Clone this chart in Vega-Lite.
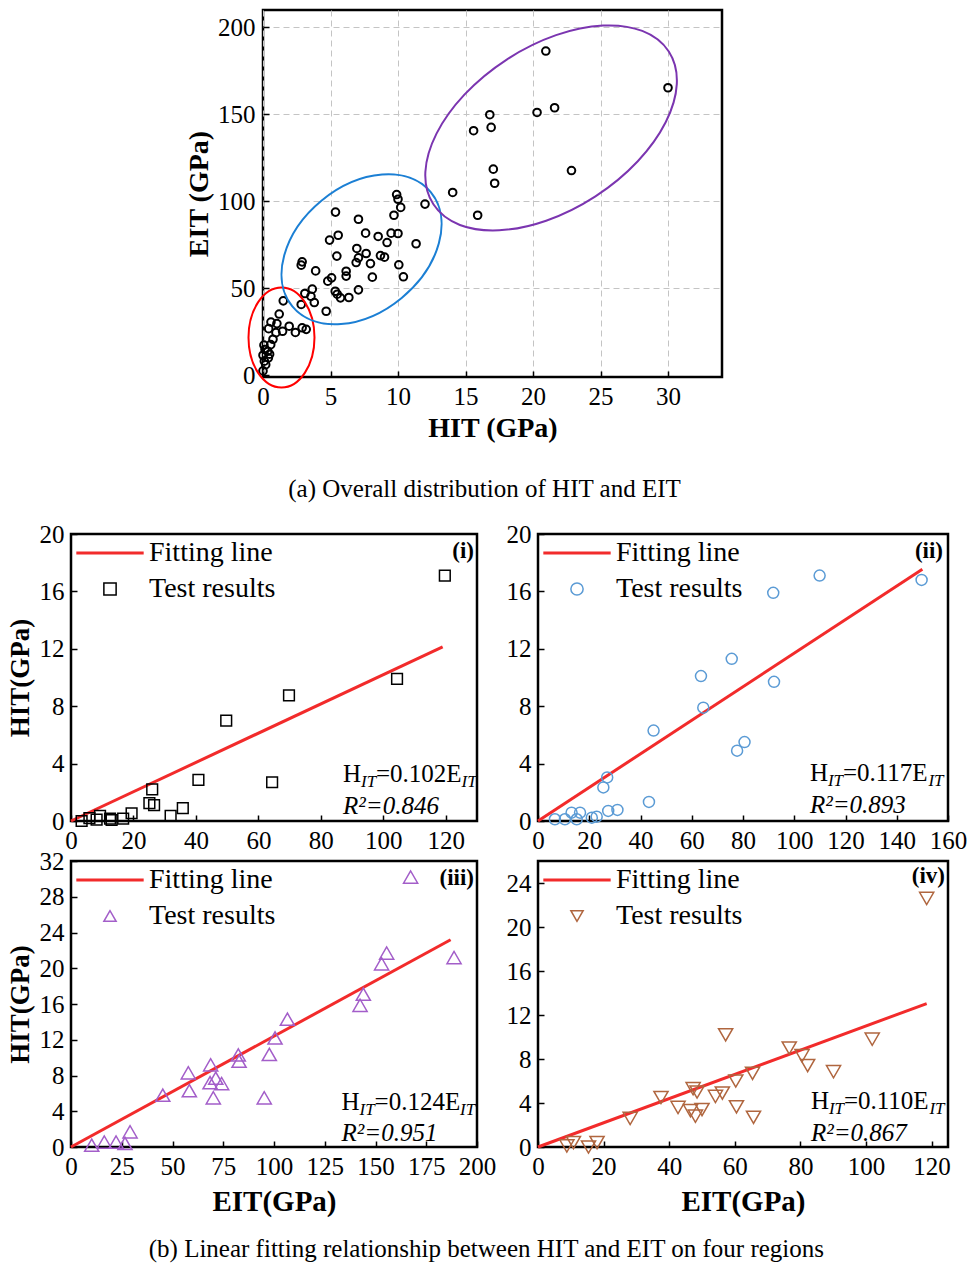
{
  "$schema": "https://vega.github.io/schema/vega-lite/v6.json",
  "padding": {"left": 4, "top": 8, "right": 0, "bottom": 0},
  "background": "white",
  "spacing": 16,
  "resolve": {"scale": {"color": "independent", "shape": "independent", "strokeWidth": "independent"}},
  "vconcat": [
    {
      "hconcat": [
        {"width": 113, "height": 1, "data": {"values": []}, "mark": "point", "view": {"stroke": null}},
        {
          "width": 459, "height": 367,
          "title": {"text": "(a) Overall distribution of HIT and EIT", "orient": "bottom", "offset": 35, "fontSize": 25, "fontWeight": "normal", "font": "Liberation Serif", "dx": -8, "anchor": "middle"},
          "layer": [
            {
              "data": {"values": [
                {"H": 20.95, "E": 186.4}, {"H": 30.0, "E": 165.3}, {"H": 21.6, "E": 153.8}, {"H": 20.3, "E": 151.1}, {"H": 16.8, "E": 149.8}, {"H": 16.9, "E": 142.5}, {"H": 15.6, "E": 140.6}, {"H": 17.06, "E": 118.5}, {"H": 22.85, "E": 117.7}, {"H": 17.16, "E": 110.4}, {"H": 14.05, "E": 105.1}, {"H": 15.9, "E": 92.0},
                {"H": 12.0, "E": 98.4}, {"H": 9.9, "E": 103.9}, {"H": 10.0, "E": 101.2}, {"H": 10.2, "E": 96.5}, {"H": 9.7, "E": 92.0}, {"H": 5.37, "E": 93.8}, {"H": 7.07, "E": 89.7}, {"H": 4.93, "E": 77.7}, {"H": 5.57, "E": 80.5}, {"H": 7.6, "E": 81.7}, {"H": 8.53, "E": 79.8}, {"H": 9.49, "E": 81.7}, {"H": 10.0, "E": 81.5}, {"H": 9.19, "E": 76.3}, {"H": 11.34, "E": 75.6}, {"H": 6.95, "E": 72.9}, {"H": 7.64, "E": 70.0}, {"H": 7.07, "E": 67.5}, {"H": 6.9, "E": 64.8}, {"H": 5.47, "E": 68.5}, {"H": 8.7, "E": 68.8}, {"H": 9.0, "E": 67.9}, {"H": 7.96, "E": 64.2}, {"H": 10.06, "E": 63.5}, {"H": 2.83, "E": 63.3}, {"H": 2.9, "E": 65.2}, {"H": 3.9, "E": 60.0}, {"H": 6.16, "E": 59.8}, {"H": 6.16, "E": 57.0}, {"H": 8.1, "E": 56.4}, {"H": 10.4, "E": 56.6}, {"H": 5.08, "E": 56.0}, {"H": 4.8, "E": 54.1}, {"H": 3.65, "E": 49.5}, {"H": 3.1, "E": 47.0}, {"H": 3.55, "E": 45.4}, {"H": 5.35, "E": 48.3}, {"H": 5.5, "E": 46.6}, {"H": 5.74, "E": 44.5}, {"H": 6.36, "E": 44.7}, {"H": 7.07, "E": 49.1}, {"H": 3.8, "E": 41.8}, {"H": 2.83, "E": 40.7}, {"H": 4.68, "E": 36.8},
                {"H": 1.5, "E": 42.8}, {"H": 1.2, "E": 35.2}, {"H": 0.59, "E": 30.6}, {"H": 1.03, "E": 29.7}, {"H": 1.94, "E": 28.2}, {"H": 0.42, "E": 26.8}, {"H": 1.45, "E": 25.3}, {"H": 0.96, "E": 24.5}, {"H": 2.4, "E": 24.6}, {"H": 2.9, "E": 27.3}, {"H": 3.2, "E": 26.4}, {"H": 0.74, "E": 20.7}, {"H": 0.57, "E": 17.6}, {"H": 0.07, "E": 17.3}, {"H": 0.15, "E": 14.8}, {"H": 0.35, "E": 13.8}, {"H": 0.0, "E": 11.5}, {"H": 0.49, "E": 12.1}, {"H": 0.4, "E": 10.0}, {"H": 0.1, "E": 8.1}, {"H": 0.2, "E": 6.1}, {"H": 0.0, "E": 2.5}
              ]},
              "mark": {"type": "point", "shape": "circle", "filled": false, "size": 58, "strokeWidth": 2, "color": "black", "opacity": 1},
              "encoding": {
                "x": {"field": "H", "type": "quantitative", "scale": {"domain": [0, 34], "nice": false, "zero": false},
                      "axis": {"values": [0, 5, 10, 15, 20, 25, 30], "title": "HIT (GPa)", "labelFontSize": 25, "titleFontSize": 28, "grid": true, "gridDash": [6, 4], "gridColor": "#c4c4c4", "gridWidth": 1, "labelPadding": 13, "titlePadding": 5, "labelOverlap": false}},
                "y": {"field": "E", "type": "quantitative", "scale": {"domain": [-1, 210], "nice": false, "zero": false},
                      "axis": {"values": [0, 50, 100, 150, 200], "title": "EIT (GPa)", "labelFontSize": 25, "titleFontSize": 28, "grid": true, "gridDash": [6, 4], "gridColor": "#c4c4c4", "gridWidth": 1, "labelPadding": 14, "titlePadding": 4, "labelOverlap": false}}
              }
            },
            {
              "data": {"values": [{"region": "I", "H": 1.37, "E": 21.7}, {"region": "II", "H": 7.3, "E": 72.4}, {"region": "III", "H": 21.34, "E": 142.2}]},
              "mark": {"type": "point", "filled": false, "size": 4, "strokeWidth": 2, "opacity": 1},
              "encoding": {
                "x": {"field": "H", "type": "quantitative"},
                "y": {"field": "E", "type": "quantitative"},
                "shape": {"field": "region", "type": "nominal", "legend": null, "scale": {"domain": ["I", "II", "III"], "range": [
                  "M -33 0 A 33 50 0 0 1 33 0 A 33 50 0 0 1 -33 0 Z",
                  "M 69.2 -57.1 A 89.7 63 -39.5 0 1 -69.2 57.1 A 89.7 63 -39.5 0 1 69.2 -57.1 Z",
                  "M 117.7 -76.4 A 140.3 81.5 -33 0 1 -117.7 76.4 A 140.3 81.5 -33 0 1 117.7 -76.4 Z"]}},
                "color": {"field": "region", "type": "nominal", "legend": null, "scale": {"domain": ["I", "II", "III"], "range": ["#ff0000", "#1b7fd4", "#7b35b0"]}}
              }
            }
          ]
        }
      ],
      "spacing": 0,
      "resolve": {"scale": {"color": "independent", "shape": "independent", "strokeWidth": "independent"}}
    },
    {
      "columns": 2,
      "bounds": "flush",
      "spacing": {"row": 40, "column": 61},
      "resolve": {"scale": {"color": "independent", "shape": "independent", "strokeWidth": "independent"}},
      "title": {"text": "(b) Linear fitting relationship between HIT and EIT on four regions", "orient": "bottom", "offset": 20, "fontSize": 25, "fontWeight": "normal", "font": "Liberation Serif", "anchor": "middle"},
      "concat": [
        {
          "width": 406, "height": 287,
          "layer": [
            {
              "data": {"values": [{"E": 0, "H": 0, "series": "Fitting line"}, {"E": 119, "H": 12.14, "series": "Fitting line"}]},
              "mark": {"type": "line"},
              "encoding": {
                "x": {"field": "E", "type": "quantitative", "scale": {"domain": [0, 130], "nice": false, "zero": false}, "axis": {"values": [0, 20, 40, 60, 80, 100, 120], "title": null, "labelOverlap": false, "labelSeparation": 0}},
                "y": {"field": "H", "type": "quantitative", "scale": {"domain": [0, 20], "nice": false}, "axis": {"values": [0, 4, 8, 12, 16, 20], "title": "HIT(GPa)", "labelOverlap": false, "labelSeparation": 0}},
                "color": {"field": "series", "type": "nominal", "scale": {"domain": ["Fitting line", "Test results"], "range": ["#f22b2b", "#000000"]}, "legend": {"title": null}},
                "strokeWidth": {"field": "series", "type": "nominal", "scale": {"domain": ["Fitting line", "Test results"], "range": [3, 1.5]}, "legend": {"title": null}}
              }
            },
            {
              "data": {"values": [
                {"E": 3.4, "H": 0.0, "series": "Test results"}, {"E": 5.9, "H": 0.2, "series": "Test results"}, {"E": 8.2, "H": 0.1, "series": "Test results"}, {"E": 9.3, "H": 0.35, "series": "Test results"}, {"E": 12.5, "H": 0.17, "series": "Test results"}, {"E": 13.0, "H": 0.07, "series": "Test results"}, {"E": 16.7, "H": 0.17, "series": "Test results"}, {"E": 19.4, "H": 0.54, "series": "Test results"}, {"E": 25.1, "H": 1.24, "series": "Test results"}, {"E": 26.0, "H": 2.2, "series": "Test results"}, {"E": 26.6, "H": 1.1, "series": "Test results"}, {"E": 31.9, "H": 0.35, "series": "Test results"}, {"E": 35.8, "H": 0.89, "series": "Test results"}, {"E": 40.8, "H": 2.87, "series": "Test results"}, {"E": 49.7, "H": 7.0, "series": "Test results"}, {"E": 64.4, "H": 2.7, "series": "Test results"}, {"E": 69.8, "H": 8.75, "series": "Test results"}, {"E": 104.4, "H": 9.9, "series": "Test results"}, {"E": 119.7, "H": 17.1, "series": "Test results"}
              ]},
              "mark": {"type": "point", "filled": false, "size": 115, "opacity": 1},
              "encoding": {
                "x": {"field": "E", "type": "quantitative", "scale": {"domain": [0, 130], "nice": false, "zero": false}, "axis": {"values": [0, 20, 40, 60, 80, 100, 120], "title": null, "labelOverlap": false, "labelSeparation": 0}},
                "y": {"field": "H", "type": "quantitative", "scale": {"domain": [0, 20], "nice": false}, "axis": {"values": [0, 4, 8, 12, 16, 20], "title": "HIT(GPa)", "labelOverlap": false, "labelSeparation": 0}},
                "color": {"field": "series", "type": "nominal", "scale": {"domain": ["Fitting line", "Test results"], "range": ["#f22b2b", "#000000"]}, "legend": {"title": null}},
                "shape": {"field": "series", "type": "nominal", "scale": {"domain": ["Fitting line", "Test results"], "range": ["M-5.5,0H5.5", "square"]}, "legend": {"title": null}},
                "strokeWidth": {"field": "series", "type": "nominal", "scale": {"domain": ["Fitting line", "Test results"], "range": [3, 1.5]}, "legend": {"title": null}}
              }
            },
            {"data": {"values": [{}]}, "mark": {"type": "text", "text": "H", "fontSize": 25, "align": "left", "baseline": "alphabetic"}, "encoding": {"x": {"datum": 87.1}, "y": {"datum": 2.69}}},
            {"data": {"values": [{}]}, "mark": {"type": "text", "text": "IT", "fontSize": 17, "fontStyle": "italic", "align": "left", "baseline": "alphabetic", "dx": 18, "dy": 5}, "encoding": {"x": {"datum": 87.1}, "y": {"datum": 2.69}}},
            {"data": {"values": [{}]}, "mark": {"type": "text", "text": "=0.102E", "fontSize": 25, "align": "left", "baseline": "alphabetic", "dx": 33}, "encoding": {"x": {"datum": 87.1}, "y": {"datum": 2.69}}},
            {"data": {"values": [{}]}, "mark": {"type": "text", "text": "IT", "fontSize": 17, "fontStyle": "italic", "align": "left", "baseline": "alphabetic", "dx": 118.5, "dy": 5}, "encoding": {"x": {"datum": 87.1}, "y": {"datum": 2.69}}},
            {"data": {"values": [{}]}, "mark": {"type": "text", "text": "R²=0.846", "fontSize": 25, "fontStyle": "italic", "align": "left", "baseline": "alphabetic"}, "encoding": {"x": {"datum": 87.1}, "y": {"datum": 0.47}}},
            {"data": {"values": [{}]}, "mark": {"type": "text", "text": "(i)", "fontSize": 23, "fontWeight": "bold", "align": "right", "baseline": "middle", "dx": -3}, "encoding": {"x": {"datum": 130}, "y": {"datum": 18.8}}}
          ]
        },
        {
          "width": 410, "height": 287,
          "layer": [
            {
              "data": {"values": [{"E": 0, "H": 0, "series": "Fitting line"}, {"E": 150, "H": 17.55, "series": "Fitting line"}]},
              "mark": {"type": "line"},
              "encoding": {
                "x": {"field": "E", "type": "quantitative", "scale": {"domain": [0, 160], "nice": false, "zero": false}, "axis": {"values": [0, 20, 40, 60, 80, 100, 120, 140, 160], "title": null, "labelOverlap": false, "labelSeparation": 0}},
                "y": {"field": "H", "type": "quantitative", "scale": {"domain": [0, 20], "nice": false}, "axis": {"values": [0, 4, 8, 12, 16, 20], "title": null, "labelOverlap": false, "labelSeparation": 0}},
                "color": {"field": "series", "type": "nominal", "scale": {"domain": ["Fitting line", "Test results"], "range": ["#f22b2b", "#5b9bd5"]}, "legend": {"title": null}},
                "strokeWidth": {"field": "series", "type": "nominal", "scale": {"domain": ["Fitting line", "Test results"], "range": [3, 1.5]}, "legend": {"title": null}}
              }
            },
            {
              "data": {"values": [
                {"E": 6.6, "H": 0.12, "series": "Test results"}, {"E": 10.5, "H": 0.12, "series": "Test results"}, {"E": 13.1, "H": 0.58, "series": "Test results"}, {"E": 15.1, "H": 0.12, "series": "Test results"}, {"E": 16.4, "H": 0.58, "series": "Test results"}, {"E": 21.0, "H": 0.23, "series": "Test results"}, {"E": 22.9, "H": 0.3, "series": "Test results"}, {"E": 25.5, "H": 2.34, "series": "Test results"}, {"E": 27.0, "H": 3.04, "series": "Test results"}, {"E": 27.4, "H": 0.7, "series": "Test results"}, {"E": 31.0, "H": 0.77, "series": "Test results"}, {"E": 43.3, "H": 1.33, "series": "Test results"}, {"E": 45.1, "H": 6.3, "series": "Test results"}, {"E": 63.6, "H": 10.1, "series": "Test results"}, {"E": 64.5, "H": 7.9, "series": "Test results"}, {"E": 75.6, "H": 11.3, "series": "Test results"}, {"E": 77.7, "H": 4.9, "series": "Test results"}, {"E": 80.6, "H": 5.5, "series": "Test results"}, {"E": 91.8, "H": 15.9, "series": "Test results"}, {"E": 92.1, "H": 9.7, "series": "Test results"}, {"E": 109.9, "H": 17.1, "series": "Test results"}, {"E": 149.7, "H": 16.8, "series": "Test results"}
              ]},
              "mark": {"type": "point", "filled": false, "size": 121, "opacity": 1},
              "encoding": {
                "x": {"field": "E", "type": "quantitative", "scale": {"domain": [0, 160], "nice": false, "zero": false}, "axis": {"values": [0, 20, 40, 60, 80, 100, 120, 140, 160], "title": null, "labelOverlap": false, "labelSeparation": 0}},
                "y": {"field": "H", "type": "quantitative", "scale": {"domain": [0, 20], "nice": false}, "axis": {"values": [0, 4, 8, 12, 16, 20], "title": null, "labelOverlap": false, "labelSeparation": 0}},
                "color": {"field": "series", "type": "nominal", "scale": {"domain": ["Fitting line", "Test results"], "range": ["#f22b2b", "#5b9bd5"]}, "legend": {"title": null}},
                "shape": {"field": "series", "type": "nominal", "scale": {"domain": ["Fitting line", "Test results"], "range": ["M-5.5,0H5.5", "circle"]}, "legend": {"title": null}},
                "strokeWidth": {"field": "series", "type": "nominal", "scale": {"domain": ["Fitting line", "Test results"], "range": [3, 1.5]}, "legend": {"title": null}}
              }
            },
            {"data": {"values": [{}]}, "mark": {"type": "text", "text": "H", "fontSize": 25, "align": "left", "baseline": "alphabetic"}, "encoding": {"x": {"datum": 106.1}, "y": {"datum": 2.8}}},
            {"data": {"values": [{}]}, "mark": {"type": "text", "text": "IT", "fontSize": 17, "fontStyle": "italic", "align": "left", "baseline": "alphabetic", "dx": 18, "dy": 5}, "encoding": {"x": {"datum": 106.1}, "y": {"datum": 2.8}}},
            {"data": {"values": [{}]}, "mark": {"type": "text", "text": "=0.117E", "fontSize": 25, "align": "left", "baseline": "alphabetic", "dx": 33}, "encoding": {"x": {"datum": 106.1}, "y": {"datum": 2.8}}},
            {"data": {"values": [{}]}, "mark": {"type": "text", "text": "IT", "fontSize": 17, "fontStyle": "italic", "align": "left", "baseline": "alphabetic", "dx": 118.5, "dy": 5}, "encoding": {"x": {"datum": 106.1}, "y": {"datum": 2.8}}},
            {"data": {"values": [{}]}, "mark": {"type": "text", "text": "R²=0.893", "fontSize": 25, "fontStyle": "italic", "align": "left", "baseline": "alphabetic"}, "encoding": {"x": {"datum": 106.1}, "y": {"datum": 0.59}}},
            {"data": {"values": [{}]}, "mark": {"type": "text", "text": "(ii)", "fontSize": 23, "fontWeight": "bold", "align": "right", "baseline": "middle", "dx": -5}, "encoding": {"x": {"datum": 160}, "y": {"datum": 18.8}}}
          ]
        },
        {
          "width": 406, "height": 286,
          "layer": [
            {
              "data": {"values": [{"E": 0, "H": 0, "series": "Fitting line"}, {"E": 187, "H": 23.19, "series": "Fitting line"}]},
              "mark": {"type": "line"},
              "encoding": {
                "x": {"field": "E", "type": "quantitative", "scale": {"domain": [0, 200], "nice": false, "zero": false}, "axis": {"values": [0, 25, 50, 75, 100, 125, 150, 175, 200], "title": "EIT(GPa)", "titleFontSize": 29, "titlePadding": 8, "labelOverlap": false, "labelSeparation": 0}},
                "y": {"field": "H", "type": "quantitative", "scale": {"domain": [0, 32], "nice": false}, "axis": {"values": [0, 4, 8, 12, 16, 20, 24, 28, 32], "title": "HIT(GPa)", "labelOverlap": false, "labelSeparation": 0}},
                "color": {"field": "series", "type": "nominal", "scale": {"domain": ["Fitting line", "Test results"], "range": ["#f22b2b", "#a35ec9"]}, "legend": {"title": null}},
                "strokeWidth": {"field": "series", "type": "nominal", "scale": {"domain": ["Fitting line", "Test results"], "range": [3, 1.5]}, "legend": {"title": null}}
              }
            },
            {
              "data": {"values": [
                {"E": 10.2, "H": 0.2, "series": "Test results"}, {"E": 16.4, "H": 0.55, "series": "Test results"}, {"E": 22.2, "H": 0.55, "series": "Test results"}, {"E": 26.6, "H": 0.4, "series": "Test results"}, {"E": 29.1, "H": 1.7, "series": "Test results"}, {"E": 45.2, "H": 5.8, "series": "Test results"}, {"E": 57.8, "H": 8.3, "series": "Test results"}, {"E": 58.3, "H": 6.3, "series": "Test results"}, {"E": 68.5, "H": 7.2, "series": "Test results"}, {"E": 68.8, "H": 9.2, "series": "Test results"}, {"E": 70.1, "H": 5.5, "series": "Test results"}, {"E": 71.3, "H": 7.7, "series": "Test results"}, {"E": 74.2, "H": 7.1, "series": "Test results"}, {"E": 82.4, "H": 10.3, "series": "Test results"}, {"E": 82.8, "H": 9.6, "series": "Test results"}, {"E": 95.2, "H": 5.5, "series": "Test results"}, {"E": 97.7, "H": 10.35, "series": "Test results"}, {"E": 100.5, "H": 12.2, "series": "Test results"}, {"E": 106.6, "H": 14.3, "series": "Test results"}, {"E": 142.4, "H": 15.85, "series": "Test results"}, {"E": 144.0, "H": 17.1, "series": "Test results"}, {"E": 153.0, "H": 20.5, "series": "Test results"}, {"E": 155.5, "H": 21.7, "series": "Test results"}, {"E": 167.3, "H": 30.2, "series": "Test results"}, {"E": 188.7, "H": 21.2, "series": "Test results"}
              ]},
              "mark": {"type": "point", "filled": false, "size": 200, "opacity": 1},
              "encoding": {
                "x": {"field": "E", "type": "quantitative", "scale": {"domain": [0, 200], "nice": false, "zero": false}, "axis": {"values": [0, 25, 50, 75, 100, 125, 150, 175, 200], "title": "EIT(GPa)", "titleFontSize": 29, "titlePadding": 8, "labelOverlap": false, "labelSeparation": 0}},
                "y": {"field": "H", "type": "quantitative", "scale": {"domain": [0, 32], "nice": false}, "axis": {"values": [0, 4, 8, 12, 16, 20, 24, 28, 32], "title": "HIT(GPa)", "labelOverlap": false, "labelSeparation": 0}},
                "color": {"field": "series", "type": "nominal", "scale": {"domain": ["Fitting line", "Test results"], "range": ["#f22b2b", "#a35ec9"]}, "legend": {"title": null}},
                "shape": {"field": "series", "type": "nominal", "scale": {"domain": ["Fitting line", "Test results"], "range": ["M-5.5,0H5.5", "triangle-up"]}, "legend": {"title": null}},
                "strokeWidth": {"field": "series", "type": "nominal", "scale": {"domain": ["Fitting line", "Test results"], "range": [3, 1.5]}, "legend": {"title": null}}
              }
            },
            {"data": {"values": [{}]}, "mark": {"type": "text", "text": "H", "fontSize": 25, "align": "left", "baseline": "alphabetic"}, "encoding": {"x": {"datum": 133.3}, "y": {"datum": 4.14, "axis": {"values": [0, 4, 8, 12, 16, 20, 24, 28, 32], "title": "HIT(GPa)", "labelOverlap": false, "labelSeparation": 0}}}},
            {"data": {"values": [{}]}, "mark": {"type": "text", "text": "IT", "fontSize": 17, "fontStyle": "italic", "align": "left", "baseline": "alphabetic", "dx": 18, "dy": 5}, "encoding": {"x": {"datum": 133.3}, "y": {"datum": 4.14, "axis": {"values": [0, 4, 8, 12, 16, 20, 24, 28, 32], "title": "HIT(GPa)", "labelOverlap": false, "labelSeparation": 0}}}},
            {"data": {"values": [{}]}, "mark": {"type": "text", "text": "=0.124E", "fontSize": 25, "align": "left", "baseline": "alphabetic", "dx": 33}, "encoding": {"x": {"datum": 133.3}, "y": {"datum": 4.14, "axis": {"values": [0, 4, 8, 12, 16, 20, 24, 28, 32], "title": "HIT(GPa)", "labelOverlap": false, "labelSeparation": 0}}}},
            {"data": {"values": [{}]}, "mark": {"type": "text", "text": "IT", "fontSize": 17, "fontStyle": "italic", "align": "left", "baseline": "alphabetic", "dx": 118.5, "dy": 5}, "encoding": {"x": {"datum": 133.3}, "y": {"datum": 4.14, "axis": {"values": [0, 4, 8, 12, 16, 20, 24, 28, 32], "title": "HIT(GPa)", "labelOverlap": false, "labelSeparation": 0}}}},
            {"data": {"values": [{}]}, "mark": {"type": "text", "text": "R²=0.951", "fontSize": 25, "fontStyle": "italic", "align": "left", "baseline": "alphabetic"}, "encoding": {"x": {"datum": 133.3}, "y": {"datum": 0.68, "axis": {"values": [0, 4, 8, 12, 16, 20, 24, 28, 32], "title": "HIT(GPa)", "labelOverlap": false, "labelSeparation": 0}}}},
            {"data": {"values": [{}]}, "mark": {"type": "text", "text": "(iii)", "fontSize": 23, "fontWeight": "bold", "align": "right", "baseline": "middle", "dx": -3}, "encoding": {"x": {"datum": 200}, "y": {"datum": 30.1, "axis": {"values": [0, 4, 8, 12, 16, 20, 24, 28, 32], "title": "HIT(GPa)", "labelOverlap": false, "labelSeparation": 0}}}}
          ]
        },
        {
          "width": 410, "height": 286,
          "layer": [
            {
              "data": {"values": [{"E": 0, "H": 0, "series": "Fitting line"}, {"E": 118.5, "H": 13.04, "series": "Fitting line"}]},
              "mark": {"type": "line"},
              "encoding": {
                "x": {"field": "E", "type": "quantitative", "scale": {"domain": [0, 125], "nice": false, "zero": false}, "axis": {"values": [0, 20, 40, 60, 80, 100, 120], "title": "EIT(GPa)", "titleFontSize": 29, "titlePadding": 8, "labelOverlap": false, "labelSeparation": 0}},
                "y": {"field": "H", "type": "quantitative", "scale": {"domain": [0, 26], "nice": false}, "axis": {"values": [0, 4, 8, 12, 16, 20, 24], "title": null, "labelOverlap": false, "labelSeparation": 0}},
                "color": {"field": "series", "type": "nominal", "scale": {"domain": ["Fitting line", "Test results"], "range": ["#f22b2b", "#b0663f"]}, "legend": {"title": null}},
                "strokeWidth": {"field": "series", "type": "nominal", "scale": {"domain": ["Fitting line", "Test results"], "range": [3, 1.5]}, "legend": {"title": null}}
              }
            },
            {
              "data": {"values": [
                {"E": 8.8, "H": 0.1, "series": "Test results"}, {"E": 10.8, "H": 0.4, "series": "Test results"}, {"E": 15.4, "H": 0.0, "series": "Test results"}, {"E": 18.0, "H": 0.4, "series": "Test results"}, {"E": 28.1, "H": 2.6, "series": "Test results"}, {"E": 37.5, "H": 4.5, "series": "Test results"}, {"E": 42.7, "H": 3.6, "series": "Test results"}, {"E": 46.5, "H": 3.3, "series": "Test results"}, {"E": 47.3, "H": 5.3, "series": "Test results"}, {"E": 48.0, "H": 2.8, "series": "Test results"}, {"E": 48.5, "H": 5.0, "series": "Test results"}, {"E": 50.0, "H": 3.4, "series": "Test results"}, {"E": 54.1, "H": 4.6, "series": "Test results"}, {"E": 56.2, "H": 4.9, "series": "Test results"}, {"E": 57.2, "H": 10.2, "series": "Test results"}, {"E": 60.3, "H": 6.0, "series": "Test results"}, {"E": 60.5, "H": 3.65, "series": "Test results"}, {"E": 65.4, "H": 6.7, "series": "Test results"}, {"E": 65.7, "H": 2.7, "series": "Test results"}, {"E": 76.6, "H": 9.0, "series": "Test results"}, {"E": 80.5, "H": 8.3, "series": "Test results"}, {"E": 82.2, "H": 7.4, "series": "Test results"}, {"E": 90.1, "H": 6.85, "series": "Test results"}, {"E": 101.9, "H": 9.8, "series": "Test results"}, {"E": 118.5, "H": 22.6, "series": "Test results"}
              ]},
              "mark": {"type": "point", "filled": false, "size": 200, "opacity": 1},
              "encoding": {
                "x": {"field": "E", "type": "quantitative", "scale": {"domain": [0, 125], "nice": false, "zero": false}, "axis": {"values": [0, 20, 40, 60, 80, 100, 120], "title": "EIT(GPa)", "titleFontSize": 29, "titlePadding": 8, "labelOverlap": false, "labelSeparation": 0}},
                "y": {"field": "H", "type": "quantitative", "scale": {"domain": [0, 26], "nice": false}, "axis": {"values": [0, 4, 8, 12, 16, 20, 24], "title": null, "labelOverlap": false, "labelSeparation": 0}},
                "color": {"field": "series", "type": "nominal", "scale": {"domain": ["Fitting line", "Test results"], "range": ["#f22b2b", "#b0663f"]}, "legend": {"title": null}},
                "shape": {"field": "series", "type": "nominal", "scale": {"domain": ["Fitting line", "Test results"], "range": ["M-5.5,0H5.5", "triangle-down"]}, "legend": {"title": null}},
                "strokeWidth": {"field": "series", "type": "nominal", "scale": {"domain": ["Fitting line", "Test results"], "range": [3, 1.5]}, "legend": {"title": null}}
              }
            },
            {"data": {"values": [{}]}, "mark": {"type": "text", "text": "H", "fontSize": 25, "align": "left", "baseline": "alphabetic"}, "encoding": {"x": {"datum": 83.2}, "y": {"datum": 3.44}}},
            {"data": {"values": [{}]}, "mark": {"type": "text", "text": "IT", "fontSize": 17, "fontStyle": "italic", "align": "left", "baseline": "alphabetic", "dx": 18, "dy": 5}, "encoding": {"x": {"datum": 83.2}, "y": {"datum": 3.44}}},
            {"data": {"values": [{}]}, "mark": {"type": "text", "text": "=0.110E", "fontSize": 25, "align": "left", "baseline": "alphabetic", "dx": 33}, "encoding": {"x": {"datum": 83.2}, "y": {"datum": 3.44}}},
            {"data": {"values": [{}]}, "mark": {"type": "text", "text": "IT", "fontSize": 17, "fontStyle": "italic", "align": "left", "baseline": "alphabetic", "dx": 118.5, "dy": 5}, "encoding": {"x": {"datum": 83.2}, "y": {"datum": 3.44}}},
            {"data": {"values": [{}]}, "mark": {"type": "text", "text": "R²=0.867", "fontSize": 25, "fontStyle": "italic", "align": "left", "baseline": "alphabetic"}, "encoding": {"x": {"datum": 83.2}, "y": {"datum": 0.55}}},
            {"data": {"values": [{}]}, "mark": {"type": "text", "text": "(iv)", "fontSize": 23, "fontWeight": "bold", "align": "right", "baseline": "middle", "dx": -3}, "encoding": {"x": {"datum": 125}, "y": {"datum": 24.6}}}
          ]
        }
      ]
    }
  ],
  "config": {
    "font": "Liberation Serif",
    "view": {"stroke": "black", "strokeWidth": 2.5},
    "text": {"font": "Liberation Serif", "color": "black"},
    "axis": {"labelFont": "Liberation Serif", "labelFontSize": 25, "labelColor": "black", "titleFont": "Liberation Serif", "titleFontSize": 27, "titleFontWeight": "bold", "titleColor": "black", "domain": false, "tickColor": "black", "tickWidth": 1.5, "tickSize": -6, "labelPadding": 13, "grid": false, "labelFlush": false, "labelOverlap": false, "titlePadding": 5},
    "axisY": {"labelOverlap": false},
    "axisQuantitative": {"labelOverlap": false},
    "legend": {"orient": "top-left", "offset": 5, "padding": 0, "labelFont": "Liberation Serif", "labelFontSize": 28, "labelColor": "black", "rowPadding": 8, "symbolSize": 150, "symbolOffset": 20, "labelOffset": 25, "labelLimit": 400, "symbolStrokeWidth": 2},
    "title": {"font": "Liberation Serif", "color": "black"}
  }
}
